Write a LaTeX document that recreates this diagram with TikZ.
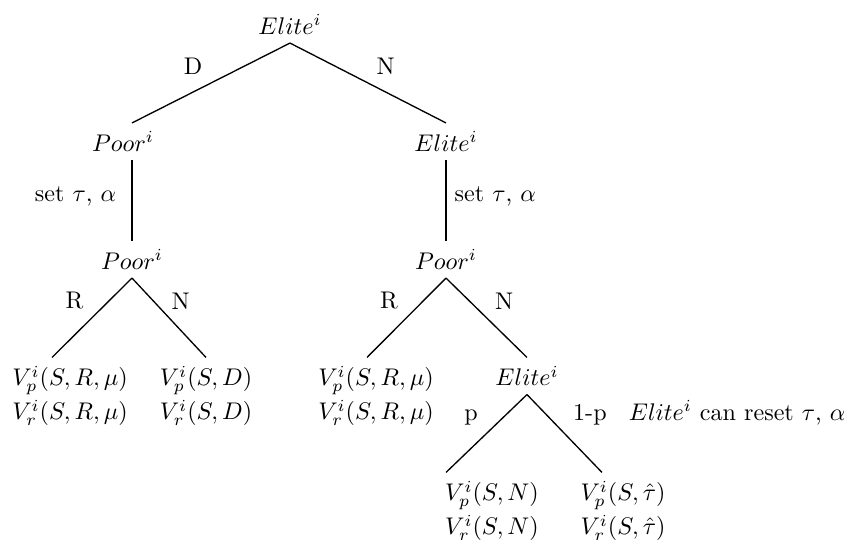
\documentclass[tikz,border=0pt]{standalone}
\usepackage{amsmath}
\usetikzlibrary{positioning,calc}

\begin{document}
\begin{tikzpicture}[x=0.415pt,y=-0.415pt,line width=.55pt,
    pl/.style={inner sep=3.3pt},
    pay/.style={align=center,inner sep=3.3pt}]
  \useasboundingbox (0,0) rectangle (844,540);
  % players
  \node[pl] (eliteA) at (290,24.5) {$Elite^i$};
  \node[pl] (poorA) at (123,141.5) {$Poor^i$};
  \node[pl] (eliteB) at (446,141.5) {$Elite^i$};
  \node[pl] (poorB) at (132,259.5) {$Poor^i$};
  \node[pl] (poorC) at (446,259.5) {$Poor^i$};
  \node[pl] (eliteC) at (527,376) {$Elite^i$};
  % payoffs
  \node[pay] (lfA) at (70,396) {$V_p^i(S,R,\mu)$\\[1pt]$V_r^i(S,R,\mu)$};
  \node[pay] (lfB) at (206,396) {$V_p^i(S,D)$\\[1pt]$V_r^i(S,D)$};
  \node[pay] (lfC) at (376,396) {$V_p^i(S,R,\mu)$\\[1pt]$V_r^i(S,R,\mu)$};
  \node[pay] (lfD) at (492,511) {$V_p^i(S,N)$\\[1pt]$V_r^i(S,N)$};
  \node[pay] (lfE) at (623,511) {$V_p^i(S,\hat{\tau})$\\[1pt]$V_r^i(S,\hat{\tau})$};
  % branches
  \draw (eliteA.south) -- node[above left]{D} (poorA.north -| poorB);
  \draw (eliteA.south) -- node[above right]{N} (eliteB.north);
  \draw (poorA.south -| poorB) -- node[left=3pt,pos=.45]{set $\tau$, $\alpha$} (poorB.north);
  \draw (eliteB.south) -- node[right,pos=.45]{set $\tau$, $\alpha$} (poorC.north);
  \draw (poorB.south) -- node[above left]{R} ($(lfA.north)+(-18,0)$);
  \draw (poorB.south) -- node[above right,xshift=-2.5pt]{N} (lfB.north);
  \draw (poorC.south) -- node[above left]{R} ($(lfC.north)+(-9,0)$);
  \draw (poorC.south) -- node[above right]{N} (eliteC.north);
  \draw (eliteC.south) -- node[above left]{p} ($(lfD.north)+(-46,0)$);
  \draw (eliteC.south) -- node[above right] (oneP) {1-p} ($(lfE.north)+(-21,0)$);
  \node[base right=2pt of oneP] (note) {$Elite^i$ can reset $\tau$, $\alpha$};
\end{tikzpicture}
\end{document}
